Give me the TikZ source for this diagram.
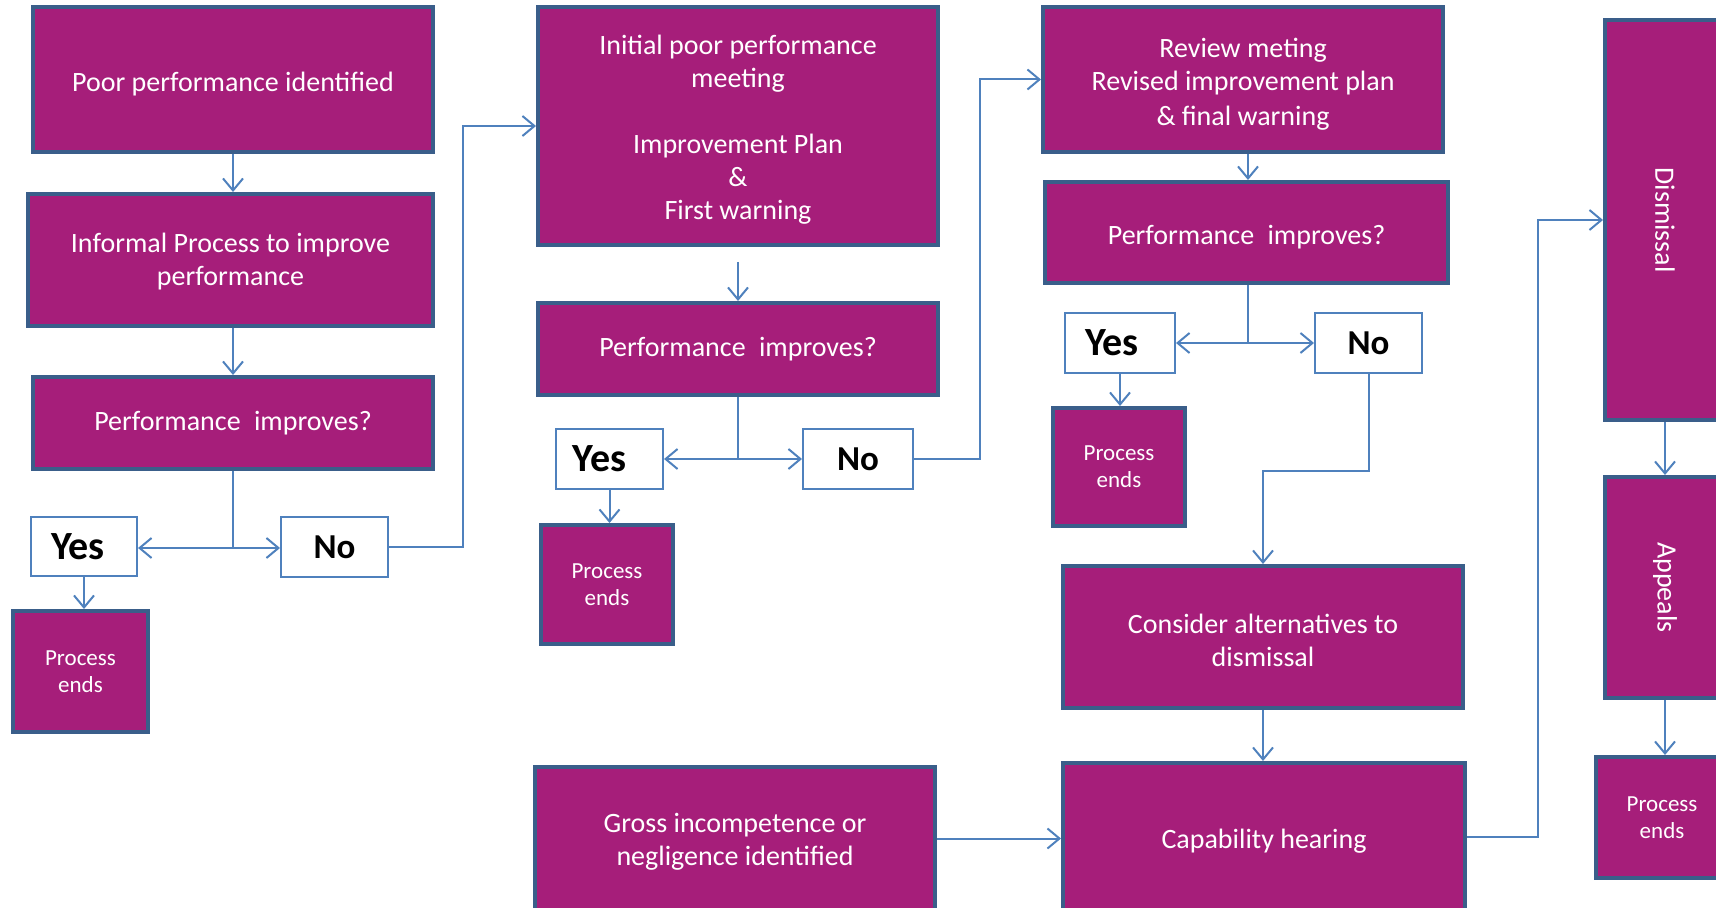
\documentclass[tikz,border=0pt]{standalone}
\usepackage{fontspec}
\setmainfont{Carlito}
\usetikzlibrary{arrows.meta,calc}
\definecolor{purp}{RGB}{166,30,122}
\definecolor{bord}{RGB}{58,94,138}
\definecolor{lineblue}{RGB}{79,129,189}
\newcommand{\mystrut}[1]{\rule{0pt}{#1}}
\tikzset{
  pbox/.style={draw=bord, line width=2pt, fill=purp, text=white, align=center, inner sep=0pt,
    font=\fontsize{14}{16.5}\selectfont},
  lowt/.style={execute at begin node={\mystrut{14pt}}},
  pend/.style={pbox, font=\fontsize{11.5}{13.5}\selectfont},
  yn/.style={draw=lineblue, line width=1pt, fill=white, text=black, inner sep=0pt,
    font=\fontsize{17.5}{20}\selectfont\bfseries},
  ynyes/.style={yn, font=\fontsize{20}{22}\selectfont\bfseries},
  sz/.style 2 args={minimum width=#1*0.5pt, minimum height=#2*0.5pt},
  cline/.style={draw=lineblue, line width=1pt},
  arr/.style={cline, -{Straight Barb[length=6pt,width=10pt]}},
}
\begin{document}
\begin{tikzpicture}[x=0.5pt,y=-0.5pt]
\useasboundingbox (0,0) rectangle (1716,908);
\clip (0,0) rectangle (1716,908);

% column 1
\node[pbox,lowt,sz={400}{145}] (B1) at (233,79.5) {Poor performance identified};
\node[pbox,sz={405}{132}] (B2) at (230.5,260) {\mystrut{11.5pt}Informal Process to improve\\performance};
\node[pbox,sz={400}{92}] (B3) at (233,423) {Performance\hspace{0.25em} improves?};
\node[ynyes,sz={106}{59}] (Y1) at (84,546.5) {Yes\kern6pt};
\node[yn,sz={107}{60}] (N1) at (334.5,547) {No};
\node[pend,sz={135}{121}] (P1) at (80.5,671.5) {Process\\ends};

% column 2
\node[pbox,sz={400}{238}] (B4) at (738,126) {\mystrut{13pt}Initial poor performance\\meeting\\[16.5pt]Improvement Plan\\\&\\First warning};
\node[pbox,sz={400}{92}] (B5) at (738,349) {Performance\hspace{0.25em} improves?};
\node[ynyes,sz={107}{60}] (Y2) at (609.5,459) {Yes\kern10pt};
\node[yn,sz={110}{60}] (N2) at (858,459) {No};
\node[pend,sz={132}{119}] (P2) at (607,584.5) {Process\\ends};
\node[pbox,sz={400}{143}] (G) at (735,838.5) {\mystrut{12.5pt}Gross incompetence or\\negligence identified};

% column 3
\node[pbox,sz={400}{145}] (B6) at (1243,79.5) {\mystrut{14pt}Review meting\\Revised improvement plan\\[1pt]\& final warning};
\node[pbox,lowt,sz={403}{101}] (B7) at (1246.5,232.5) {Performance\hspace{0.25em} improves?};
\node[ynyes,sz={110}{60}] (Y3) at (1120,343) {Yes\kern8pt};
\node[yn,sz={107}{60}] (N3) at (1368.5,343) {No};
\node[pend,sz={132}{118}] (P3) at (1119,467) {Process\\ends};
\node[pbox,sz={400}{142}] (B8) at (1263,637) {\mystrut{13pt}Consider alternatives to\\dismissal};
\node[pbox,lowt,sz={402}{148}] (B9) at (1264,837) {Capability hearing};

% column 4
\node[pbox,sz={120}{400}] (D) at (1665,220) {\rotatebox{-90}{Dismissal}};
\node[pbox,sz={120}{221}] (A) at (1665,587.5) {\rotatebox{-90}{Appeals}};
\node[pend,sz={132}{121}] (P4) at (1662,817.5) {Process\\ends};

% helper coordinates
\coordinate (j1) at (233,548);
\coordinate (c1) at (463,300);
\coordinate (j2) at (738,459);
\coordinate (c2) at (980,300);
\coordinate (j3) at (1248,343);
\coordinate (c3) at (1263,471);
\coordinate (c4) at (1538,500);

% connectors column 1
\draw[arr] (B1.south) -- (B1.south |- B2.north);
\draw[arr] (B3.north |- B2.south) -- (B3.north);
\draw[cline] (B3.south) -- (j1);
\draw[arr] (j1) -- (j1 -| Y1.east);
\draw[arr] (j1) -- (j1 -| N1.west);
\draw[arr] (Y1.south) -- (Y1.south |- P1.north);
\draw[arr] (N1.east) -| (c1) |- (B4.west);

% connectors column 2
\draw[arr] ($(B4.south)+(0,15)$) -- (B5.north);
\draw[cline] (B5.south) -- (j2);
\draw[arr] (j2) -- (j2 -| Y2.east);
\draw[arr] (j2) -- (j2 -| N2.west);
\draw[arr] (Y2.south) -- (Y2.south |- P2.north);
\draw[arr] (N2.east) -| (c2) |- (B6.west);
\draw[arr] (G.east) -- (G.east -| B9.west);

% connectors column 3
\draw[arr] ($(B6.south)+(5,0)$) -- ($(B6.south |- B7.north)+(5,0)$);
\draw[cline] (B7.south -| j3) -- (j3);
\draw[arr] (j3) -- (j3 -| Y3.east);
\draw[arr] (j3) -- (j3 -| N3.west);
\draw[arr] (Y3.south) -- (Y3.south |- P3.north);
\draw[arr] (N3.south) |- (c3) -- (c3 |- B8.north);
\draw[arr] (B8.south) -- (B8.south |- B9.north);
\draw[arr] (B9.east) -| (c4) |- (D.west);

% connectors column 4
\draw[arr] (D.south) -- (A.north);
\draw[arr] (A.south) -- (A.south |- P4.north);
\end{tikzpicture}
\end{document}
